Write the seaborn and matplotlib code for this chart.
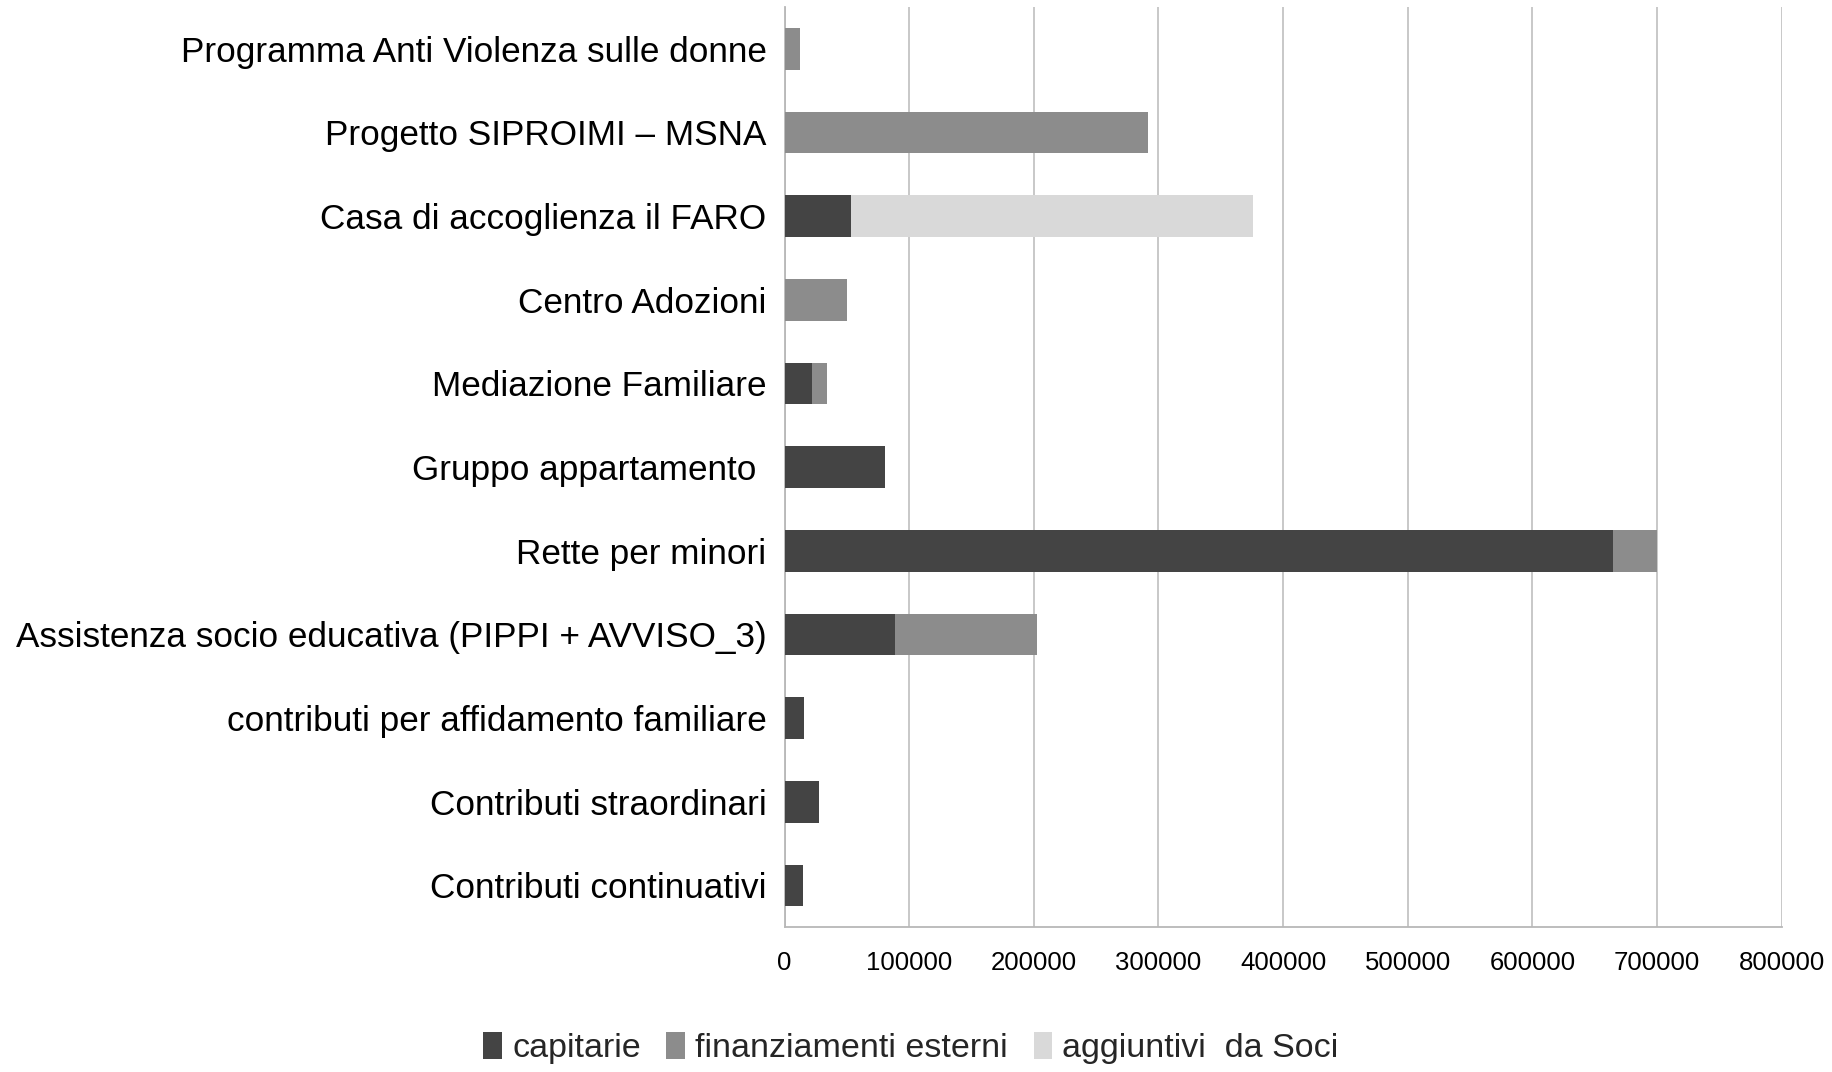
import numpy as np
import pandas as pd
import seaborn as sns
import matplotlib.pyplot as plt
from matplotlib.patches import Patch

# categorie dall'alto verso il basso
categorie = [
    "Programma Anti Violenza sulle donne",
    "Progetto SIPROIMI – MSNA",
    "Casa di accoglienza il FARO",
    "Centro Adozioni",
    "Mediazione Familiare",
    "Gruppo appartamento ",
    "Rette per minori",
    "Assistenza socio educativa (PIPPI + AVVISO_3)",
    "contributi per affidamento familiare",
    "Contributi straordinari",
    "Contributi continuativi",
]
capitarie = [0, 0, 53000, 0, 22000, 80500, 665000, 88500, 15500, 27500, 14700]
finanziamenti_esterni = [12300, 292000, 0, 50000, 12000, 0, 35000, 113800, 0, 0, 0]
aggiuntivi_soci = [0, 0, 322500, 0, 0, 0, 0, 0, 0, 0, 0]

serie = ["capitarie", "finanziamenti esterni", "aggiuntivi  da Soci"]
colori = ["#444444", "#8c8c8c", "#d9d9d9"]

df = pd.DataFrame({
    "categoria": categorie,
    "capitarie": capitarie,
    "finanziamenti": finanziamenti_esterni,
    "aggiuntivi": aggiuntivi_soci,
})
# somme cumulative per l'impilamento
df["c1"] = df["capitarie"]
df["c2"] = df["c1"] + df["finanziamenti"]
df["c3"] = df["c2"] + df["aggiuntivi"]

sns.set_style("white")
plt.rcParams["font.family"] = ["Liberation Sans", "DejaVu Sans"]

fig = plt.figure(figsize=(18.33, 10.72), dpi=100)
ax = fig.add_axes([0.428, 0.135, 0.544, 0.8585])

# disegna dal totale più lungo al più corto
for col, colore in zip(["c3", "c2", "c1"], colori[::-1]):
    sns.barplot(data=df, x=col, y="categoria", color=colore, orient="h",
                width=0.5, saturation=1, ax=ax, zorder=3,
                edgecolor="none", linewidth=0)

ax.set_xlim(0, 800000)
ax.set_xticks(np.arange(0, 800001, 100000))
ax.set_xticklabels([str(v) for v in range(0, 800001, 100000)])
ax.set_ylim(len(categorie) - 0.5, -0.5)
ax.set_xlabel("")
ax.set_ylabel("")

ax.grid(axis="x", color="#c4c4c4", linewidth=1.3, zorder=0)
ax.grid(axis="y", visible=False)
for s in ["top", "right"]:
    ax.spines[s].set_visible(False)
for s in ["left", "bottom"]:
    ax.spines[s].set_color("#b8b8b8")
    ax.spines[s].set_linewidth(1.3)

ax.tick_params(axis="y", which="major", length=0, pad=13, labelsize=25.3, labelcolor="black")
ax.set_yticks(np.arange(-0.5, len(categorie)), minor=True)
ax.tick_params(axis="y", which="minor", length=8, width=1.3, color="#b8b8b8")
ax.tick_params(axis="x", which="major", length=9, width=1.3, color="#b8b8b8",
               pad=8, labelsize=18.5, labelcolor="black")

handles = [Patch(facecolor=c, edgecolor="none") for c in colori]
fig.legend(handles, serie, loc="center", bbox_to_anchor=(0.497, 0.022), ncol=3,
           frameon=False, fontsize=24.5, handlelength=0.55, handleheight=0.8,
           handletextpad=0.3, columnspacing=0.75)

fig.savefig("out.png", dpi=100)
